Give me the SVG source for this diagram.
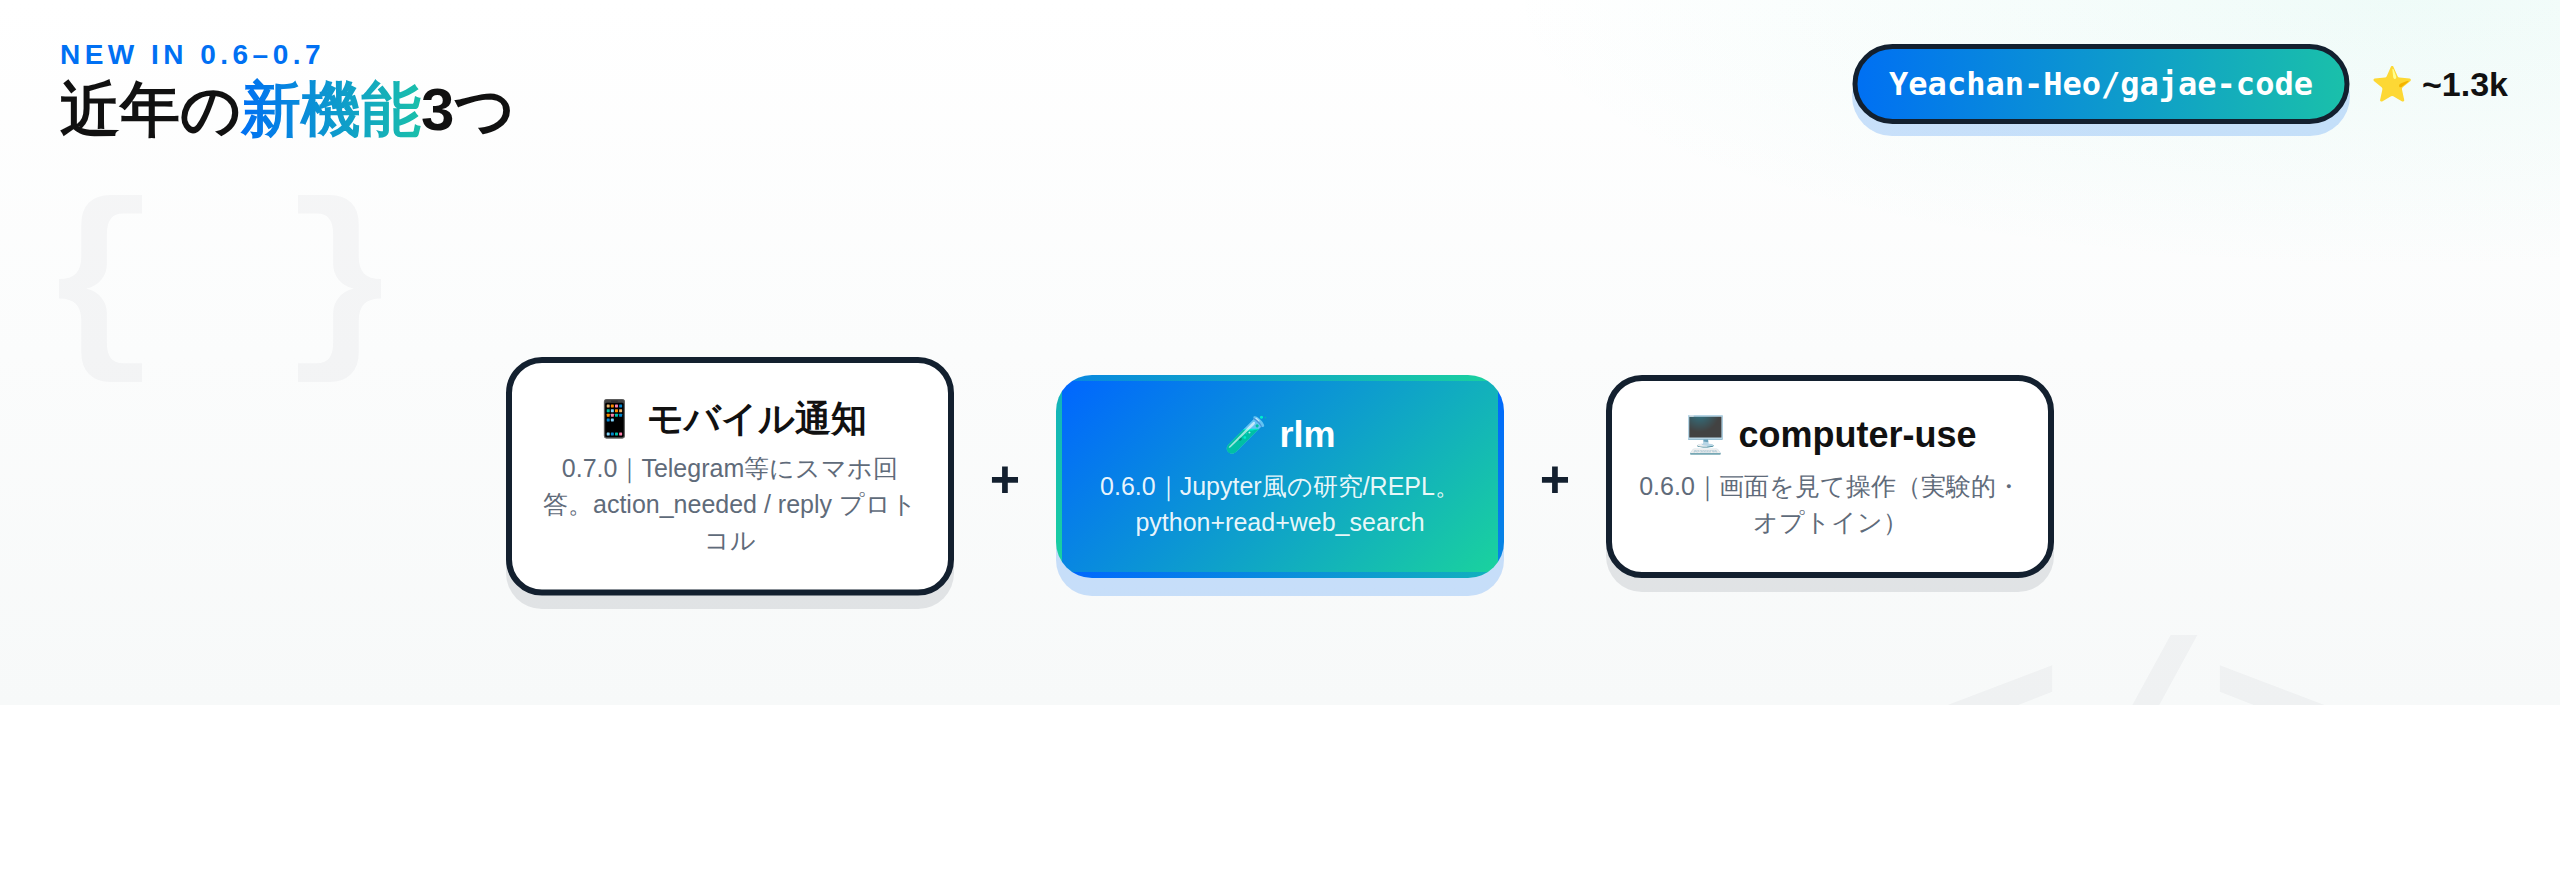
<svg xmlns="http://www.w3.org/2000/svg" width="2560" height="880" viewBox="0 0 2560 880">
<style>
text{font-family:"Liberation Sans",sans-serif}
.card{fill:#fff;stroke:#13202f;stroke-width:6}
.t{font-size:36px;font-weight:700;fill:#111;text-anchor:middle}
.s{font-size:25px;fill:#5f6b7a;text-anchor:middle}
.s2{font-size:25px;fill:#fff;fill-opacity:.92;text-anchor:middle}
.plus{font-size:52px;font-weight:700;fill:#13202f;text-anchor:middle}
.bg{font-family:"Liberation Mono",monospace;font-weight:700;fill:#13202f;fill-opacity:.035}
</style>
<defs>
<linearGradient id="bg" x1="0" y1="0" x2="0" y2="1"><stop offset="0" stop-color="#fff"/><stop offset="1" stop-color="#f7f9f9"/></linearGradient>
<radialGradient id="glow" gradientUnits="userSpaceOnUse" cx="2400" cy="0" r="900" gradientTransform="translate(2400 0) scale(1 .3) translate(-2400 0)"><stop offset="0" stop-color="#1ac8a0" stop-opacity=".07"/><stop offset="1" stop-color="#1ac8a0" stop-opacity="0"/></radialGradient>
<linearGradient id="tg" gradientUnits="userSpaceOnUse" x1="240" y1="0" x2="422" y2="0"><stop offset="0" stop-color="#0070f3"/><stop offset="1" stop-color="#1ac0aa"/></linearGradient>
<linearGradient id="pg" gradientUnits="userSpaceOnUse" x1="1857" y1="0" x2="2345" y2="0"><stop offset="0" stop-color="#0070f3"/><stop offset="1" stop-color="#1ac0aa"/></linearGradient>
<linearGradient id="cg" gradientUnits="userSpaceOnUse" x1="61.5" y1="-61.5" x2="374.5" y2="251.5"><stop offset="0" stop-color="#0066ff"/><stop offset="1" stop-color="#1ad29e"/></linearGradient>
<pattern id="cp" patternUnits="userSpaceOnUse" x="1062" y="381" width="436" height="191"><rect width="436" height="191" fill="url(#cg)"/></pattern>
<clipPath id="pageclip"><rect x="0" y="0" width="2560" height="705"/></clipPath>
</defs>
<g id="background">
<rect width="2560" height="705" fill="url(#bg)"/>
<rect width="2560" height="705" fill="url(#glow)"/>
<g clip-path="url(#pageclip)">
<text class="bg" x="40" y="340" font-size="200">{ }</text>
<text class="bg" x="1920" y="809" font-size="240">&lt;/&gt;</text>
</g>
</g>
<g id="header">
<text x="60" y="64" font-size="28" font-weight="700" letter-spacing="4.48" fill="#0070f3">NEW IN 0.6–0.7</text>
<text x="60" y="130" font-size="60" font-weight="700" fill="#111"><tspan>近年の</tspan><tspan fill="url(#tg)">新機能</tspan><tspan>3つ</tspan></text>
</g>
<g id="repo-pill">
<rect x="1852" y="56" width="498" height="80" rx="40" fill="#0070f3" fill-opacity=".2"/>
<rect x="1855" y="46.500" width="492" height="75" rx="37.500" fill="url(#pg)" stroke="#13202f" stroke-width="5"/>
<text x="2101" y="95" font-size="32" font-weight="700" fill="#fff" text-anchor="middle" style="font-family:'DejaVu Sans Mono',monospace">Yeachan-Heo/gajae-code</text>
</g>
<g id="stars"><text x="2508" y="96" font-size="34" font-weight="700" fill="#111" text-anchor="end">⭐ ~1.3k</text></g>
<g id="card-mobile">
<rect x="506" y="371" width="448" height="238" rx="36" fill="#13202f" fill-opacity=".1"/>
<rect class="card" x="509" y="360" width="442" height="232.500" rx="33"/>
<text class="t" x="730" y="431">📱 モバイル通知</text>
<text class="s" x="730" y="477">0.7.0｜Telegram等にスマホ回</text>
<text class="s" x="730" y="513">答。action_needed / reply プロト</text>
<text class="s" x="730" y="549">コル</text>
</g>
<g id="card-rlm">
<rect x="1056" y="393" width="448" height="203" rx="36" fill="#0070f3" fill-opacity=".2"/>
<rect x="1056" y="375" width="448" height="203" rx="36" fill="url(#cp)"/>
<text class="t" x="1280" y="447" style="fill:#fff">🧪 rlm</text>
<text class="s2" x="1280" y="495">0.6.0｜Jupyter風の研究/REPL。</text>
<text class="s2" x="1280" y="531">python+read+web_search</text>
</g>
<g id="card-computer-use">
<rect x="1606" y="389" width="448" height="203" rx="36" fill="#13202f" fill-opacity=".1"/>
<rect class="card" x="1609" y="378" width="442" height="197" rx="33"/>
<text class="t" x="1830" y="447">🖥️ computer-use</text>
<text class="s" x="1830" y="495">0.6.0｜画面を見て操作（実験的・</text>
<text class="s" x="1830" y="531">オプトイン）</text>
</g>
<g id="connectors">
<text class="plus" x="1005" y="497">+</text>
<text class="plus" x="1555" y="497">+</text>
</g>
</svg>
